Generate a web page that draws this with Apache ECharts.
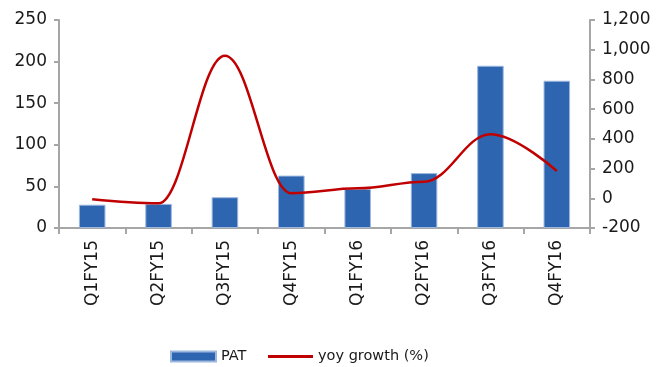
<!DOCTYPE html>
<html>
<head>
<meta charset="utf-8">
<script src="https://cdn.jsdelivr.net/npm/echarts@6/dist/echarts.min.js"></script>
<style>
  html, body { margin: 0; padding: 0; background: #fff; }
  #chart { width: 660px; height: 367px; }
</style>
</head>
<body>
<div id="chart"></div>
<script>
const categories = ["Q1FY15", "Q2FY15", "Q3FY15", "Q4FY15", "Q1FY16", "Q2FY16", "Q3FY16", "Q4FY16"];
const patValues = [28, 29, 37, 63, 47, 66, 195, 177];
const yoyValues = [-7, -34, 960, 34, 67, 112, 431, 184];

const axisColor = "#a6a6a6";
const textColor = "#1a1a1a";
const fontFamily = "'DejaVu Sans', sans-serif";

const chart = echarts.init(document.getElementById("chart"));
chart.setOption({
  animation: false,
  textStyle: { fontFamily: fontFamily },
  grid: { left: 59, right: 70, top: 20, bottom: 139 },
  legend: [
    {
      left: 170,
      bottom: 3,
      padding: 0,
      itemWidth: 45,
      itemHeight: 10,
      itemGap: 5,
      icon: "rect",
      textStyle: { color: textColor, fontSize: 14.5, fontFamily: fontFamily },
      data: ["PAT"]
    },
    {
      left: 268,
      bottom: 3,
      padding: 0,
      itemWidth: 45,
      itemHeight: 3,
      itemGap: 5,
      icon: "rect",
      textStyle: { color: textColor, fontSize: 14.5, fontFamily: fontFamily },
      data: ["yoy growth (%)"]
    }
  ],
  xAxis: {
    type: "category",
    data: categories,
    axisLine: { lineStyle: { color: axisColor, width: 2 } },
    axisTick: { show: true, length: 6, lineStyle: { color: axisColor, width: 2 } },
    axisLabel: { rotate: 90, color: textColor, fontSize: 17, margin: 12 }
  },
  yAxis: [
    {
      type: "value",
      min: 0,
      max: 250,
      interval: 50,
      splitLine: { show: false },
      axisLine: { show: true, lineStyle: { color: axisColor, width: 2 } },
      axisTick: { show: true, length: 5, lineStyle: { color: axisColor, width: 2 } },
      axisLabel: { color: textColor, fontSize: 17, margin: 12 }
    },
    {
      type: "value",
      min: -200,
      max: 1200,
      interval: 200,
      splitLine: { show: false },
      axisLine: { show: true, lineStyle: { color: axisColor, width: 2 } },
      axisTick: { show: true, length: 5, lineStyle: { color: axisColor, width: 2 } },
      axisLabel: {
        color: textColor,
        fontSize: 17,
        margin: 12,
        formatter: function (v) { return v.toLocaleString("en-US"); }
      }
    }
  ],
  series: [
    {
      name: "PAT",
      type: "bar",
      yAxisIndex: 0,
      data: patValues,
      barWidth: "40%",
      itemStyle: { color: "#2e65b0", borderColor: "#9db8de", borderWidth: 1 }
    },
    {
      name: "yoy growth (%)",
      type: "line",
      yAxisIndex: 1,
      data: yoyValues,
      smooth: 0.38,
      smoothMonotone: "x",
      symbol: "none",
      lineStyle: { color: "#c00000", width: 2.5 },
      itemStyle: { color: "#c00000" }
    }
  ]
});
</script>
</body>
</html>
